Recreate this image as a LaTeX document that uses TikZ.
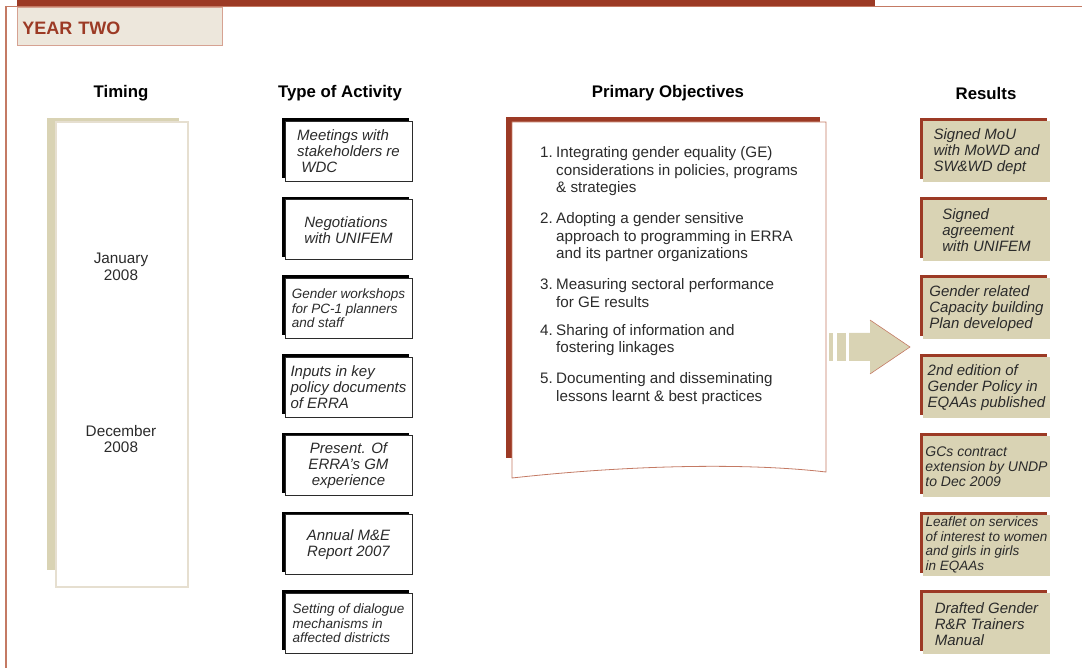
\documentclass[tikz,border=0pt]{standalone}
\usepackage{fontspec}
\setmainfont{Liberation Sans}
\usepackage{tikz}
\usetikzlibrary{shadows}

\definecolor{errared}{HTML}{9C3A25}
\definecolor{errabeige}{HTML}{D9D3B4}
\definecolor{palebeige}{HTML}{EDE7DC}
\definecolor{edgebeige}{HTML}{E6DFD0}
\definecolor{framered}{HTML}{C47A64}
\definecolor{inkgray}{HTML}{2B2B2B}

\tikzset{
  header/.style={font=\fontsize{16.8}{19}\selectfont\bfseries},
  timetext/.style={align=center, text=inkgray, font=\fontsize{15.3}{16.5}\selectfont},
  actbox/.style={draw=inkgray, line width=0.7pt, fill=white, minimum width=127pt,
    minimum height=60pt, inner sep=1pt, text=inkgray,
    font=\fontsize{15}{16}\selectfont\itshape,
    general shadow={fill=black, shadow xshift=-3pt, shadow yshift=3pt}},
  resbox/.style={fill=errabeige, minimum width=127pt, minimum height=61pt,
    inner sep=1pt, text=inkgray, font=\fontsize{15}{16}\selectfont\itshape,
    general shadow={fill=errared, shadow xshift=-3pt, shadow yshift=3pt}},
  txtleft/.style={align=left},
  txtmid/.style={align=center},
  txtsnug/.style={align=left, font=\fontsize{14}{15}\selectfont\itshape},
  txttight/.style={align=left, font=\fontsize{13.5}{14.5}\selectfont\itshape},
}

\begin{document}
\begin{tikzpicture}[x=1pt, y=-1pt]
  \useasboundingbox (0,0) rectangle (1082,668);

  % frame and title bar
  \draw[framered, line width=1.2pt] (1082,6.8) -- (6,6.8) -- (6,668);
  \fill[errared] (17,0) rectangle (875,6.5);
  \node[draw=framered!70, line width=0.8pt, fill=palebeige, anchor=north west,
    text width=195pt, minimum height=38pt, inner xsep=5pt, align=left,
    text height=16pt, text=errared, font=\fontsize{18}{20}\selectfont\bfseries] (yeartag) at (17,7) {YEAR TWO};

  % column headers
  \node[header] (hdtiming) at (121,93) {Timing};
  \node[header] (hdactivity) at (340,93) {Type of Activity};
  \node[header] (hdobjective) at (668,93) {Primary Objectives};
  \node[header] (hdresult) at (986,93) {Results};

  % timing
  \fill[errabeige] (47,118) rectangle (179,570);
  \node[draw=edgebeige, line width=1.2pt, fill=white,
    minimum width=132pt, minimum height=465pt] (timebox) at (122,354.5) {};
  \node[timetext] (jan) at (121,267) {January\\2008};
  \node[timetext] (dec) at (121,439) {December\\2008};

  % activities
  \foreach \sty/\t [count=\i] in {
      txtleft/{Meetings with\\stakeholders re\\\ WDC},
      txtleft/{Negotiations\\with UNIFEM},
      txttight/{Gender workshops\\for PC-1 planners\\and staff},
      txtleft/{Inputs in key\\policy documents\\of ERRA},
      txtmid/{Present. Of\\ERRA's GM\\experience},
      txtmid/{Annual M\&E\\Report 2007},
      txttight/{Setting of dialogue\\mechanisms in\\affected districts}}
    \node[actbox, \sty] (act\i) at (348.5, {151+78.7*(\i-1)}) {\t};

  % objectives
  \fill[errared] (506,117) rectangle (820,458);
  \draw[framered, line width=0.8pt, fill=white] (512,122) -- (826,122) -- (826,472)
    .. controls (740,462) and (620,466) .. (512,478) -- cycle;
  \node[anchor=base west, inner sep=0pt, text=inkgray,
    font=\fontsize{15.2}{17.5}\selectfont] (objtext) at (540,158) {%
    \begin{tabular}[t]{@{}l@{}l@{}}
      \makebox[16pt][l]{1.} & Integrating gender equality (GE)\\
       & considerations in policies, programs\\
       & \& strategies\\[13.5pt]
      \makebox[16pt][l]{2.} & Adopting a gender sensitive\\
       & approach to programming in ERRA\\
       & and its partner organizations\\[13.5pt]
      \makebox[16pt][l]{3.} & Measuring sectoral performance\\
       & for GE results\\[10.5pt]
      \makebox[16pt][l]{4.} & Sharing of information and\\
       & fostering linkages\\[13.5pt]
      \makebox[16pt][l]{5.} & Documenting and disseminating\\
       & lessons learnt \& best practices
    \end{tabular}};

  % block arrow
  \fill[errabeige] (829,333) rectangle (833,361);
  \fill[errabeige] (837,333) rectangle (846,361);
  \fill[errabeige] (849,333) -- (870,333) -- (870,320) -- (910,347)
    -- (870,374) -- (870,361) -- (849,361) -- cycle;
  \draw[framered, line width=0.6pt] (870,320) -- (910,347) -- (870,374);

  % results
  \foreach \sty/\t [count=\i] in {
      txtleft/{Signed MoU\\with MoWD and\\SW\&WD dept},
      txtleft/{Signed\\agreement\\with UNIFEM},
      txtleft/{Gender related\\Capacity building\\Plan developed},
      txtleft/{2nd edition of\\Gender Policy in\\EQAAs published},
      txtsnug/{GCs contract\\extension by UNDP\\to Dec 2009},
      txttight/{Leaflet on services\\of interest to women\\and girls in girls\\in EQAAs},
      txtleft/{Drafted Gender\\R\&R Trainers\\Manual}}
    \node[resbox, \sty] (res\i) at (986.5, {151.5+78.7*(\i-1)}) {\t};
\end{tikzpicture}
\end{document}
